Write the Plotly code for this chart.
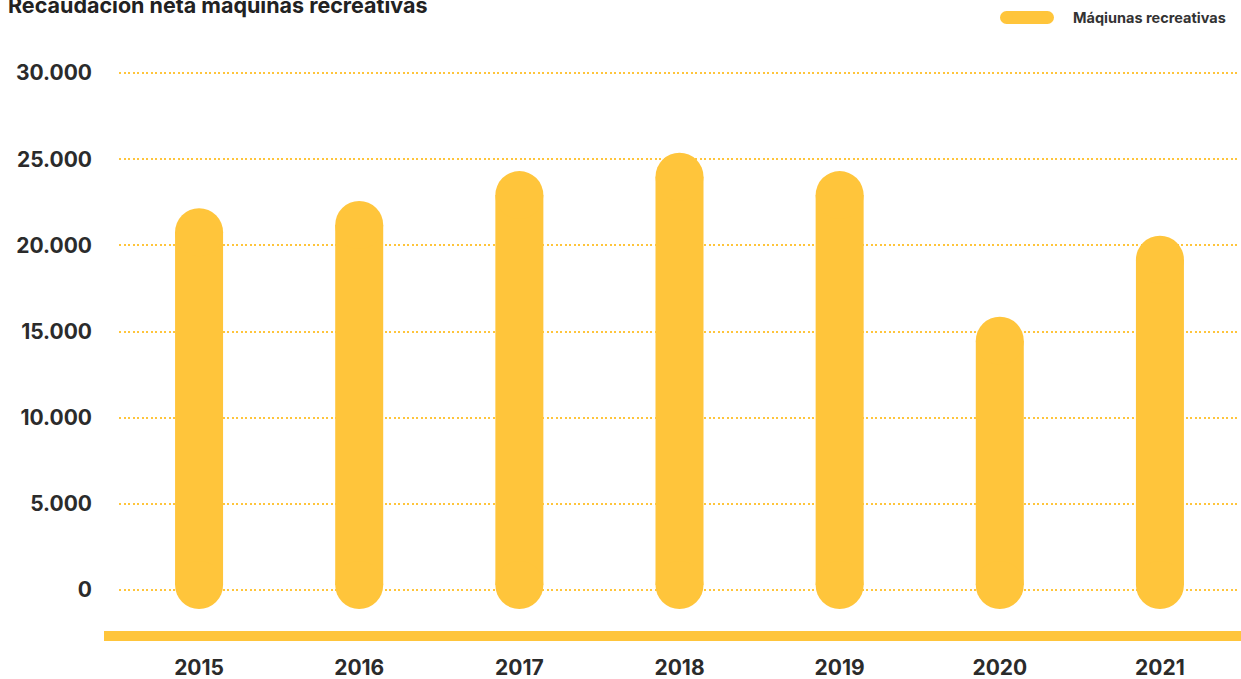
import plotly.graph_objects as go

# ---- data ----
years = ["2015", "2016", "2017", "2018", "2019", "2020", "2021"]
recaudacion = [22150, 22570, 24310, 25375, 24310, 15860, 20560]
y_ticks = [0, 5000, 10000, 15000, 20000, 25000, 30000]
y_tick_labels = ["0", "5.000", "10.000", "15.000", "20.000", "25.000", "30.000"]
series_name = "Máqiunas recreativas"
title_text = "Recaudación neta máquinas recreativas"

# ---- style ----
YELLOW = "#FFC53B"
TEXT = "#2B2B2B"
FONT = "Inter"
W, H = 1241, 679
ML, MR, MT, MB = 119, 1, 64, 55
ZERO_PX, TOP_PX = 590, 73           # pixel rows of 0 and 30000
S = (ZERO_PX - TOP_PX) / 30000      # pixels per data unit
Y_MAX = 30000 + (TOP_PX - MT) / S
Y_MIN = -((H - MB) - ZERO_PX) / S
BAR_PX = 48                          # bar thickness in pixels
CAP_EXT_PX = 19                      # rounded foot reaches below zero
R_DATA = (BAR_PX / 2) / S

foot_center = -CAP_EXT_PX / S + R_DATA

# build pill-shaped bars: line between cap centres, round caps as markers
xs, ys = [], []
for yr, v in zip(years, recaudacion):
    xs += [yr, yr, None]
    ys += [foot_center, v - R_DATA, None]

fig = go.Figure()
fig.add_trace(go.Scatter(
    x=xs, y=ys, mode="lines+markers", connectgaps=False,
    line=dict(color=YELLOW, width=BAR_PX),
    marker=dict(color=YELLOW, size=BAR_PX, symbol="circle", line=dict(width=0)),
    name=series_name, showlegend=False, hoverinfo="skip", cliponaxis=False,
))

plot_w = W - ML - MR
plot_h = H - MT - MB

def px_to_paper_x(px):
    return (px - ML) / plot_w

def px_to_paper_y(py):
    return (H - MB - py) / plot_h

shapes = []
# thick baseline
shapes.append(dict(type="rect", xref="paper", yref="paper",
                   x0=px_to_paper_x(104), x1=1.0 + MR / plot_w,
                   y0=px_to_paper_y(641), y1=px_to_paper_y(631),
                   fillcolor=YELLOW, line=dict(width=0), layer="below"))
# legend pill
pcx, pcy = px_to_paper_x(1027), px_to_paper_y(17.5)
shapes.append(dict(type="rect", xref="paper", yref="paper",
                   xsizemode="pixel", ysizemode="pixel",
                   xanchor=pcx, yanchor=pcy,
                   x0=-20.5, x1=20.5, y0=-6.5, y1=6.5,
                   fillcolor=YELLOW, line=dict(width=0)))
for dx in (-20.5, 20.5):
    shapes.append(dict(type="circle", xref="paper", yref="paper",
                       xsizemode="pixel", ysizemode="pixel",
                       xanchor=pcx, yanchor=pcy,
                       x0=dx - 6.5, x1=dx + 6.5, y0=-6.5, y1=6.5,
                       fillcolor=YELLOW, line=dict(width=0)))

annotations = [
    dict(text=f"<b>{title_text}</b>", xref="paper", yref="paper",
         x=px_to_paper_x(6), y=px_to_paper_y(5), xanchor="left", yanchor="middle",
         showarrow=False, font=dict(family=FONT, size=21.5, color="#222222", weight=800)),
    dict(text=series_name, xref="paper", yref="paper",
         x=px_to_paper_x(1071), y=pcy, xanchor="left", yanchor="middle",
         showarrow=False, font=dict(family=FONT, size=14.5, color="#333333", weight=700)),
]

fig.update_layout(
    width=W, height=H,
    margin=dict(l=ML, r=MR, t=MT, b=MB, pad=0, autoexpand=False),
    paper_bgcolor="white", plot_bgcolor="white",
    showlegend=False,
    shapes=shapes, annotations=annotations,
    font=dict(family=FONT, color=TEXT),
    xaxis=dict(
        type="category", categoryorder="array", categoryarray=years,
        range=[-0.5, len(years) - 0.5], automargin=False,
        showgrid=False, zeroline=False, showline=False, ticks="",
        tickfont=dict(family=FONT, size=21, color=TEXT, weight=700),
        ticklabelstandoff=29,
    ),
    yaxis=dict(
        range=[Y_MIN, Y_MAX], automargin=False,
        tickvals=y_ticks, ticktext=y_tick_labels,
        showgrid=True, gridcolor=YELLOW, gridwidth=2, griddash="2px,2.5px",
        zeroline=False, showline=False, ticks="",
        tickfont=dict(family=FONT, size=21, color=TEXT, weight=700),
        ticklabelstandoff=26,
    ),
)

fig.write_html("out.html", config={"displayModeBar": False},
               post_script="document.body.style.margin='0';")
